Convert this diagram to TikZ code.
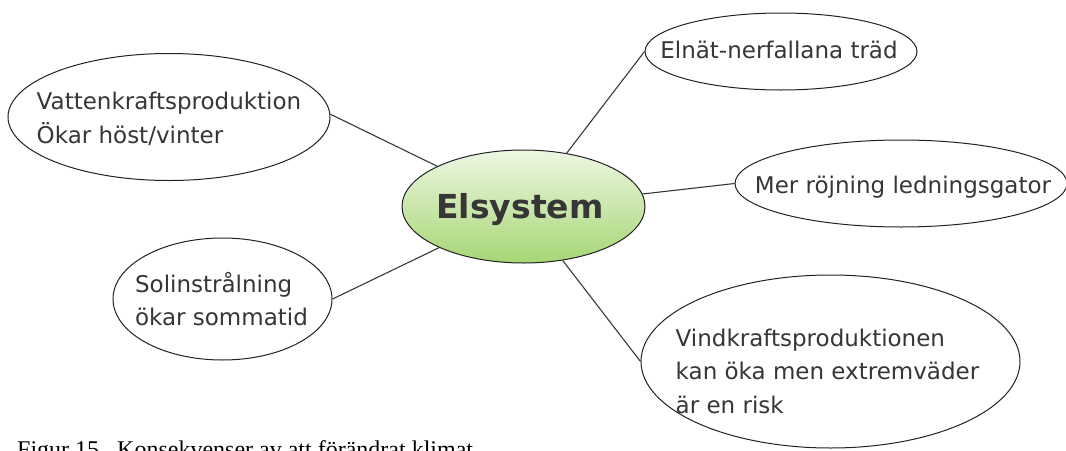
\documentclass[tikz,border=0pt]{standalone}
\usepackage{fontspec}
\usetikzlibrary{shapes.geometric,shadings}
\newfontfamily\nodefont{DejaVu Sans}
\newfontfamily\capfont{Liberation Serif}
\definecolor{txt}{HTML}{363636}
\definecolor{edge}{HTML}{222222}
\definecolor{greentop}{HTML}{EDF7E3}
\definecolor{greenbot}{HTML}{A6D674}
\begin{document}
\begin{tikzpicture}[x=1pt,y=-1pt,
  bubble/.style={ellipse,draw=edge,line width=1pt,inner sep=0pt,fill=white},
  bubbletext/.style={inner sep=0pt,align=left,text=txt,font=\nodefont\fontsize{23}{33.5}\selectfont},
  hub/.style={ellipse,draw=edge,line width=1pt,inner sep=0pt,top color=greentop,bottom color=greenbot,shading angle=0},
  link/.style={draw=edge!90,line width=1.1pt}]
\useasboundingbox (0,0) rectangle (1066,450);
% outer bubbles
\node[bubble,minimum width=322pt,minimum height=127pt] (tl) at (169,117) {};
\node[bubble,minimum width=219pt,minimum height=122pt] (bl) at (222.5,299) {};
\node[bubble,minimum width=272pt,minimum height=77pt] (tr) at (781,51.5) {};
\node[bubble,minimum width=332pt,minimum height=87pt] (mr) at (901,183.5) {};
\node[bubble,minimum width=379pt,minimum height=173pt] (br) at (830.5,361.5) {};
% hub
\node[hub,minimum width=243pt,minimum height=113pt] (c) at (523.5,206.5) {};
\node[inner sep=0pt,text=txt,font=\nodefont\bfseries\fontsize{33}{40}\selectfont,anchor=base] (ct) at (520,218) {Elsystem};
% texts
\node[bubbletext] (tlt) at (169,119) {Vattenkraftsproduktion\\Ökar höst/vinter};
\node[bubbletext] (blt) at (221.5,299) {Solinstrålning\\ökar sommatid};
\node[bubbletext,anchor=base] (trt) at (779,58) {Elnät-nerfallana träd};
\node[bubbletext,anchor=base] (mrt) at (903,193) {Mer röjning ledningsgator};
\node[bubbletext] (brt) at (827.5,371) {Vindkraftsproduktionen\\kan öka men extremväder\\är en risk};
% connectors
\draw[link] (tl.1) -- (c.155.6);
\draw[link] (bl.0) -- (c.206);
\draw[link] (tr.180.6) -- (c.51.6);
\draw[link] (mr.180) -- (c.6.2);
\draw[link] (br.180) -- (c.-54.6);
% caption (cut by the page edge, as in the reference)
\node[inner sep=0pt,anchor=base west,font=\capfont\fontsize{24}{28}\selectfont] (cap) at (17,457) {Figur 15.\ \ Konsekvenser av att förändrat klimat};
\end{tikzpicture}
\end{document}
